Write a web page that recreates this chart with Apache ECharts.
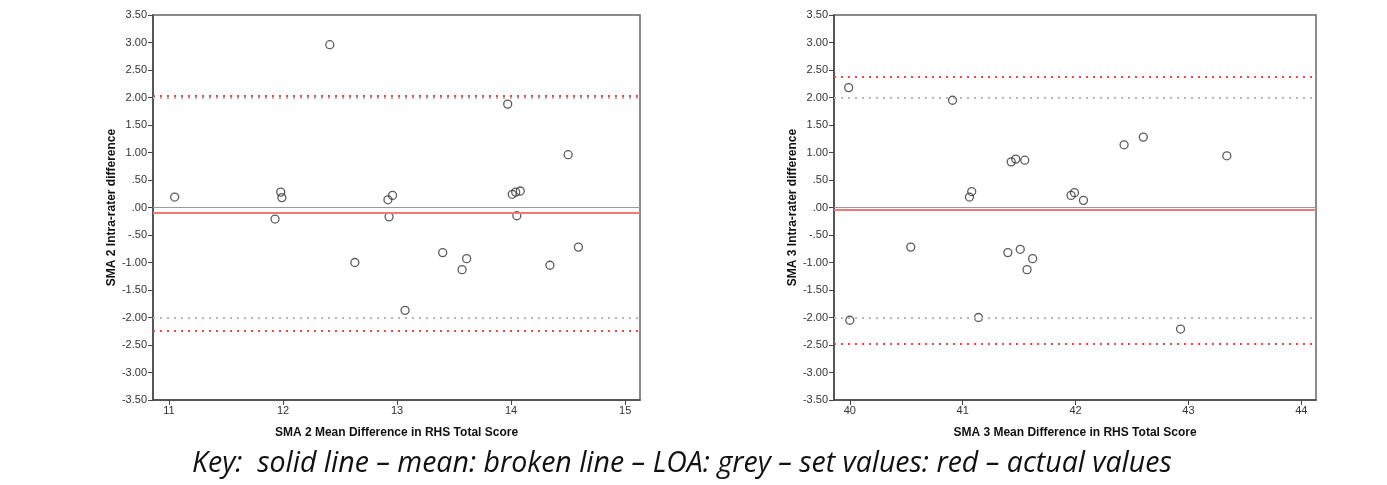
<!doctype html>
<html>
<head>
<meta charset="UTF-8">
<title>Bland-Altman SMA 2 / SMA 3</title>
<script src="https://cdn.jsdelivr.net/npm/echarts@6/dist/echarts.min.js"></script>
<style>
  html, body { margin: 0; padding: 0; background: #fff; }
  #main { width: 1387px; height: 485px; }
</style>
</head>
<body>
<div id="main"></div>
<script type="text/javascript">
// SMA 2 points (mean score, intra-rater difference)
var sma2X = [11.05, 12.41, 11.98, 11.99, 11.93, 12.63, 12.92, 12.96, 12.93, 13.07, 13.40,
             13.57, 13.61, 13.97, 14.01, 14.04, 14.08, 14.05, 14.34, 14.50, 14.59];
var sma2Y = [0.19, 2.96, 0.28, 0.18, -0.21, -1.00, 0.14, 0.22, -0.17, -1.87, -0.82,
             -1.13, -0.93, 1.88, 0.24, 0.28, 0.30, -0.15, -1.05, 0.96, -0.72];
// SMA 3 points
var sma3X = [39.99, 40.00, 40.54, 40.91, 41.06, 41.08, 41.14, 41.40, 41.43, 41.47, 41.51,
             41.55, 41.57, 41.62, 41.96, 41.99, 42.07, 42.43, 42.60, 42.93, 43.34];
var sma3Y = [2.18, -2.05, -0.72, 1.95, 0.19, 0.29, -2.00, -0.82, 0.83, 0.88, -0.76,
             0.86, -1.13, -0.93, 0.22, 0.27, 0.13, 1.14, 1.28, -2.21, 0.94];

// reference lines: set values (grey) and actual values (red)
var setMean = 0;
var setLoa = [2.00, -2.00];
var sma2Mean = -0.09;
var sma2Loa = [2.04, -2.24];
var sma3Mean = -0.04;
var sma3Loa = [2.38, -2.47];

// tick labels
var sma2Ticks = [11, 12, 13, 14, 15];
var sma3Ticks = [40, 41, 42, 43, 44];

var caption = 'Key:  solid line \u2013 mean: broken line \u2013 LOA: grey \u2013 set values: red \u2013 actual values';

function pairs(xs, ys) {
    var out = [];
    for (var i = 0; i < xs.length; i++) out.push([xs[i], ys[i]]);
    return out;
}

// SPSS style: .50, -.50, .00
function yFmt(v) {
    var s = Math.abs(v).toFixed(2);
    if (s.charAt(0) === '0') s = s.substring(1);
    return (v < 0 ? '-' : '') + s;
}

function refLines(mean, loa) {
    var d = [];
    d.push({ yAxis: setMean, lineStyle: { color: '#9a9a9a', width: 1, type: 'solid' } });
    d.push({ yAxis: mean, lineStyle: { color: '#f07878', width: 2, type: 'solid' } });
    for (var i = 0; i < setLoa.length; i++)
        d.push({ yAxis: setLoa[i], lineStyle: { color: '#b8b8b8', width: 2, type: [2, 5] } });
    for (var j = 0; j < loa.length; j++)
        d.push({ yAxis: loa[j], lineStyle: { color: '#f04848', width: 2, type: [2, 5] } });
    return { silent: true, symbol: 'none', label: { show: false }, animation: false, data: d };
}

var tickLabel = { color: '#333', fontSize: 11, fontFamily: 'Liberation Sans, Arial, sans-serif' };
var nameStyle = { color: '#111', fontSize: 12, fontWeight: 'bold', fontFamily: 'Liberation Sans, Arial, sans-serif' };

function xAxisOf(idx, min, max, ticks, name) {
    return {
        type: 'value', gridIndex: idx, min: min, max: max,
        name: name, nameLocation: 'middle', nameGap: 27, nameTextStyle: nameStyle,
        axisLine: { onZero: false, lineStyle: { color: '#444', width: 1.5 } },
        axisTick: { customValues: ticks, length: 5, lineStyle: { color: '#444' } },
        axisLabel: Object.assign({ customValues: ticks, margin: 5 }, tickLabel),
        splitLine: { show: false }
    };
}

function yAxisOf(idx, name) {
    return {
        type: 'value', gridIndex: idx, min: -3.5, max: 3.5, interval: 0.5,
        name: name, nameLocation: 'middle', nameGap: 34, nameTextStyle: nameStyle,
        axisLine: { onZero: false, lineStyle: { color: '#444', width: 1.5 } },
        axisTick: { length: 5, lineStyle: { color: '#444' } },
        axisLabel: Object.assign({ formatter: yFmt, margin: 6 }, tickLabel),
        splitLine: { show: false }
    };
}

var myChart = echarts.init(document.getElementById('main'));
var option = {
    backgroundColor: '#fff',
    animation: false,
    grid: [
        { left: 153, top: 15, width: 487, height: 385, show: true, borderColor: '#666', borderWidth: 1.5, backgroundColor: 'transparent' },
        { left: 834, top: 15, width: 482, height: 385, show: true, borderColor: '#666', borderWidth: 1.5, backgroundColor: 'transparent' }
    ],
    xAxis: [
        xAxisOf(0, 10.86, 15.13, sma2Ticks, 'SMA 2 Mean Difference in RHS Total Score'),
        xAxisOf(1, 39.86, 44.13, sma3Ticks, 'SMA 3 Mean Difference in RHS Total Score')
    ],
    yAxis: [
        yAxisOf(0, 'SMA 2 Intra-rater difference'),
        yAxisOf(1, 'SMA 3 Intra-rater difference')
    ],
    graphic: [{
        type: 'text', left: 192, top: 449,
        style: { text: caption, fill: '#111', fontSize: 28.5, fontStyle: 'italic', fontFamily: 'Open Sans, sans-serif' }
    }],
    series: [
        {
            type: 'scatter', xAxisIndex: 0, yAxisIndex: 0, data: pairs(sma2X, sma2Y),
            symbol: 'circle', symbolSize: 8,
            itemStyle: { color: 'transparent', borderColor: '#333', borderWidth: 1.3 },
            markLine: refLines(sma2Mean, sma2Loa), z: 3
        },
        {
            type: 'scatter', xAxisIndex: 1, yAxisIndex: 1, data: pairs(sma3X, sma3Y),
            symbol: 'circle', symbolSize: 8,
            itemStyle: { color: 'transparent', borderColor: '#333', borderWidth: 1.3 },
            markLine: refLines(sma3Mean, sma3Loa), z: 3
        }
    ]
};
myChart.setOption(option);
</script>
</body>
</html>
